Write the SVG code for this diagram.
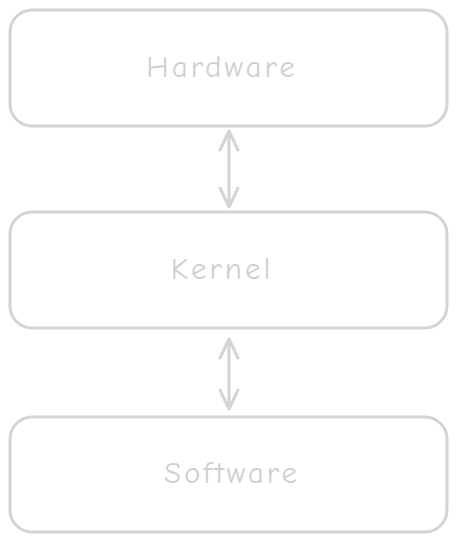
<svg xmlns="http://www.w3.org/2000/svg" width="457" height="543" viewBox="0 0 457 543">
<defs>
<style>
.box{fill:#ffffff;stroke:#d4d4d4;stroke-width:3}
.lbl{font-family:"Comic Neue","Liberation Sans",sans-serif;font-size:31px;letter-spacing:3px;fill:#cfcfcf;text-anchor:middle;dominant-baseline:central}
.con{fill:none;stroke:#d4d4d4;stroke-width:3;stroke-linecap:round;stroke-linejoin:round}
</style>
</defs>
<rect width="457" height="543" fill="#ffffff"/>
<g id="hardware"><rect class="box" x="10" y="10" width="437" height="116" rx="22"/><text class="lbl" x="222" y="67">Hardware</text></g>
<g id="kernel"><rect class="box" x="10" y="212" width="437" height="116" rx="22"/><text class="lbl" x="222" y="269">Kernel</text></g>
<g id="software"><rect class="box" x="10" y="417" width="437" height="115" rx="22"/><text class="lbl" x="232" y="473">Software</text></g>
<g id="connectors">
<path class="con" d="M229 131 L229 207 M220 150 L229 131 L238 150 M220 188 L229 207 L238 188"/>
<path class="con" d="M229 339 L229 409 M220 358 L229 339 L238 358 M220 390 L229 409 L238 390"/>
</g>
</svg>
